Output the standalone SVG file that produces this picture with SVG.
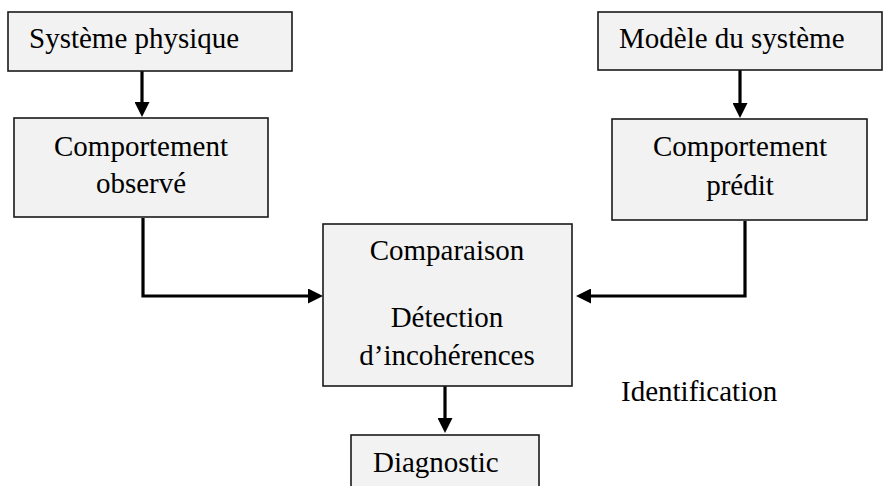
<svg xmlns="http://www.w3.org/2000/svg" width="887" height="486" viewBox="0 0 887 486">
  <style>
    .box { fill: #f2f2f2; stroke: #1a1a1a; stroke-width: 1.6; }
    .lbl { font-family: "Liberation Serif", "Times New Roman", serif; font-size: 29px; fill: #000; }
    .mid { text-anchor: middle; }
    .conn { fill: none; stroke: #000; stroke-width: 3.2; stroke-linejoin: miter; }
  </style>
  <defs>
    <marker id="arrow" markerUnits="userSpaceOnUse" viewBox="0 0 15 15" markerWidth="15" markerHeight="15" refX="5" refY="7.5" orient="auto">
      <path d="M0,0 L15,7.5 L0,15 z" fill="#000"/>
    </marker>
  </defs>
  <rect width="887" height="486" fill="#fff"/>

  <g id="connectors">
    <path class="conn" d="M142,71 V107" marker-end="url(#arrow)"/>
    <path class="conn" d="M740,70 V108" marker-end="url(#arrow)"/>
    <path class="conn" d="M143,218 V296 H313" marker-end="url(#arrow)"/>
    <path class="conn" d="M745,221 V296 H586" marker-end="url(#arrow)"/>
    <path class="conn" d="M445,386 V423" marker-end="url(#arrow)"/>
  </g>

  <g id="systeme-physique">
    <rect class="box" x="8" y="12" width="284" height="59"/>
    <text class="lbl" x="29" y="48">Système physique</text>
  </g>

  <g id="comportement-observe">
    <rect class="box" x="14" y="118" width="254" height="99"/>
    <text class="lbl mid" x="141" y="156">Comportement</text>
    <text class="lbl mid" x="141" y="193">observé</text>
  </g>

  <g id="modele-systeme">
    <rect class="box" x="598" y="12" width="284" height="58"/>
    <text class="lbl" x="619" y="48">Modèle du système</text>
  </g>

  <g id="comportement-predit">
    <rect class="box" x="612" y="119" width="255" height="101"/>
    <text class="lbl mid" x="740" y="156">Comportement</text>
    <text class="lbl mid" x="740" y="195">prédit</text>
  </g>

  <g id="comparaison">
    <rect class="box" x="323" y="224" width="249" height="162"/>
    <text class="lbl mid" x="447" y="260">Comparaison</text>
    <text class="lbl mid" x="447" y="327">Détection</text>
    <text class="lbl mid" x="447" y="365">d’incohérences</text>
  </g>

  <g id="diagnostic">
    <rect class="box" x="351" y="435" width="188" height="60"/>
    <text class="lbl" x="373" y="472">Diagnostic</text>
  </g>

  <g id="identification">
    <text class="lbl" x="621" y="401">Identification</text>
  </g>
</svg>
